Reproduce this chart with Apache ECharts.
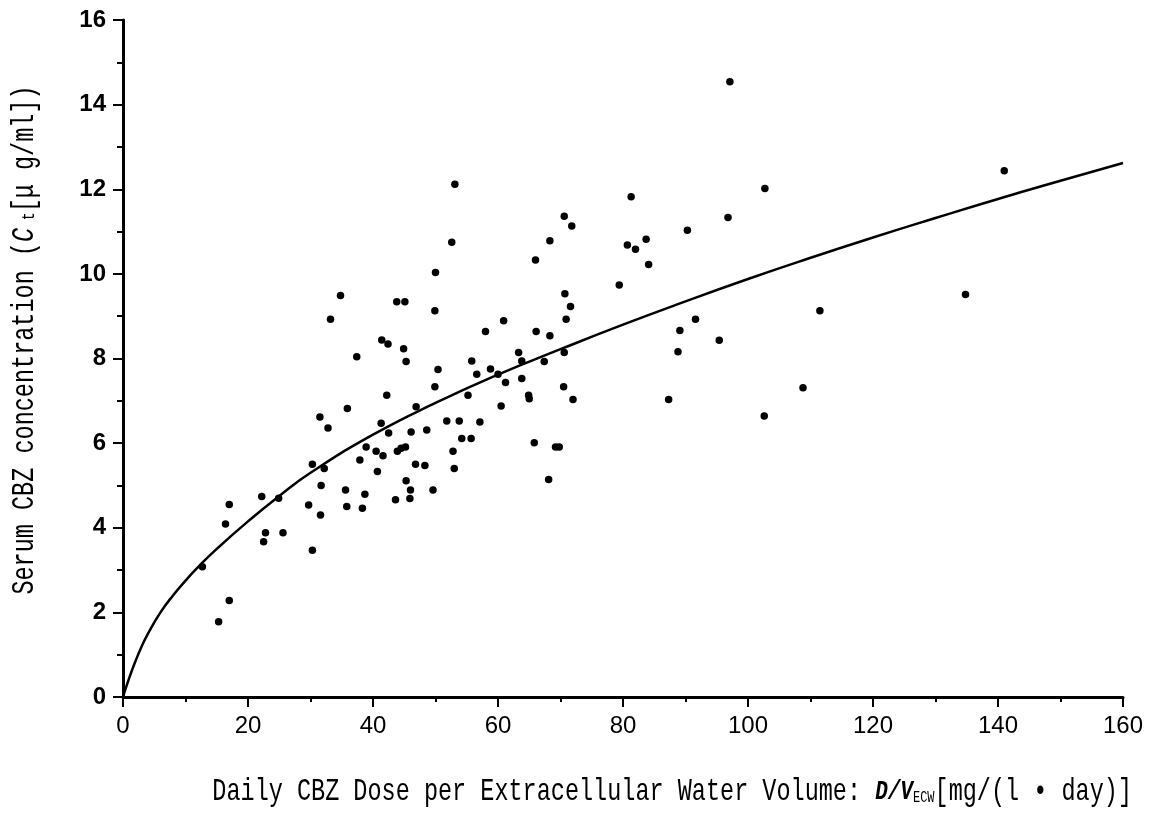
<!DOCTYPE html>
<html>
<head>
<meta charset="utf-8">
<script src="https://cdn.jsdelivr.net/npm/echarts@6/dist/echarts.min.js"></script>
<style>
html,body{margin:0;padding:0;background:#fff;}
#chart{width:1151px;height:815px;}
</style>
</head>
<body>
<div id="chart"></div>
<script>
// Observed data: [dose per ECW volume, serum CBZ concentration]
const pointsX = [12.7,15.3,17.0,16.4,17.0,22.2,24.9,22.8,22.5,25.6,30.3,
  50.0,34.8,43.8,45.1,49.9,33.2,58.0,41.4,42.4,44.9,45.3,37.4,55.8,50.4,58.8,56.6,49.9,55.2,42.2,46.9,35.9,31.5,32.8,41.3,51.8,53.8,57.1,42.5,46.1,48.6,54.2,55.7,38.9,40.5,41.6,43.9,44.5,45.2,52.8,37.9,30.3,32.2,46.8,48.3,53.0,40.7,45.3,31.7,35.6,38.7,46.0,49.6,29.7,35.8,38.3,43.6,45.9,31.6,
  81.3,70.6,71.8,83.7,68.3,80.7,82.0,66.0,84.1,79.4,70.7,71.6,70.9,60.9,66.1,68.3,63.3,70.6,63.8,67.4,60.0,61.2,63.8,64.9,65.0,70.5,72.0,60.5,65.8,69.2,69.8,68.1,
  102.7,96.8,90.3,111.5,91.6,89.1,88.8,95.4,87.3,108.8,102.6,
  141.0,134.8,97.1,53.1,52.6];
const pointsY = [3.08,1.78,2.28,4.09,4.55,4.74,4.70,3.88,3.67,3.88,3.47,
  10.03,9.49,9.34,9.34,9.13,8.93,8.64,8.44,8.34,8.23,7.93,8.04,7.94,7.74,7.75,7.63,7.33,7.13,7.13,6.86,6.82,6.62,6.36,6.47,6.52,6.52,6.50,6.24,6.26,6.31,6.11,6.11,5.91,5.81,5.70,5.81,5.88,5.91,5.81,5.60,5.50,5.40,5.50,5.47,5.40,5.33,5.11,5.00,4.89,4.79,4.89,4.89,4.54,4.50,4.46,4.66,4.69,4.30,
  11.82,11.36,11.13,10.82,10.78,10.68,10.58,10.33,10.22,9.74,9.53,9.23,8.93,8.89,8.64,8.54,8.14,8.14,7.94,7.93,7.63,7.43,7.53,7.13,7.05,7.33,7.03,6.88,6.01,5.91,5.91,5.14,
  12.02,11.33,11.03,9.13,8.93,8.66,8.16,8.43,7.03,7.31,6.64,
  12.44,9.51,14.54,12.12,10.75];

// Fitted curve
const curveX = [0,1,2,3,4,6,8,10,12,15,20,25,30,40,50,60,70,80,90,100,110,120,130,140,150,160];
const curveY = [0,0.45,0.85,1.2,1.5,2.0,2.4,2.75,3.07,3.5,4.15,4.75,5.3,6.2,6.95,7.62,8.22,8.8,9.35,9.88,10.38,10.86,11.32,11.77,12.2,12.62];

// Axis ticks
const xTicks = {min:0, max:160, interval:20};
const yTicks = {min:0, max:16, interval:2};

const scatterData = pointsX.map((x,i)=>[x, pointsY[i]]);
const curveData = curveX.map((x,i)=>[x, curveY[i]]);

const chart = echarts.init(document.getElementById('chart'), null, {renderer:'canvas'});
const black = '#000';
const titleFont = '"Liberation Mono","DejaVu Sans Mono",monospace';

chart.setOption({
  backgroundColor:'#fff',
  animation:false,
  grid:{left:123, right:28, top:20, bottom:118, containLabel:false},
  xAxis:{
    type:'value', min:xTicks.min, max:xTicks.max, interval:xTicks.interval,
    axisLine:{show:true, onZero:false, lineStyle:{color:black, width:3}},
    axisTick:{show:true, inside:false, length:10, lineStyle:{color:black, width:2}},
    minorTick:{show:true, splitNumber:2, length:5, lineStyle:{color:black, width:2}},
    splitLine:{show:false},
    axisLabel:{color:black, fontFamily:'"Liberation Sans",Arial,sans-serif', fontSize:24, margin:17}
  },
  yAxis:{
    type:'value', min:yTicks.min, max:yTicks.max, interval:yTicks.interval,
    axisLine:{show:true, onZero:false, lineStyle:{color:black, width:3}},
    axisTick:{show:true, inside:false, length:10, lineStyle:{color:black, width:2}},
    minorTick:{show:true, splitNumber:2, length:6, lineStyle:{color:black, width:2}},
    splitLine:{show:false},
    axisLabel:{color:black, fontFamily:'"Liberation Sans",Arial,sans-serif', fontSize:24, fontWeight:'bold', margin:17}
  },
  series:[
    {type:'line', data:curveData, smooth:true, showSymbol:false, symbol:'none',
     lineStyle:{color:black, width:2.5}, z:2},
    {type:'scatter', data:scatterData, symbol:'circle', symbolSize:7.5,
     itemStyle:{color:black, opacity:1}, z:3}
  ],
  graphic:[
    {type:'text', x:1132, y:792, scaleY:1.35,
     style:{
       text:'Daily CBZ Dose per Extracellular Water Volume: {it|D/V}{sub|ECW}[mg/(l • day)]',
       font:'23.5px ' + titleFont, fill:black, align:'right', verticalAlign:'middle',
       rich:{
         it:{fontFamily:titleFont, fontSize:21, fontStyle:'italic', fontWeight:'bold', fill:black},
         sub:{fontFamily:titleFont, fontSize:12, fill:black, padding:[8,0,0,0]}
       }
     }},
    {type:'text', x:25, y:340, rotation:Math.PI/2, scaleY:1.35,
     style:{
       text:'Serum CBZ concentration ({it|C}{sub| t}[μ g/ml])',
       font:'23.5px ' + titleFont, fill:black, align:'center', verticalAlign:'middle',
       rich:{
         it:{fontFamily:titleFont, fontSize:23.5, fontStyle:'italic', fill:black},
         sub:{fontFamily:titleFont, fontSize:13, fill:black, padding:[6,0,0,0]}
       }
     }}
  ]
});
</script>
</body>
</html>
